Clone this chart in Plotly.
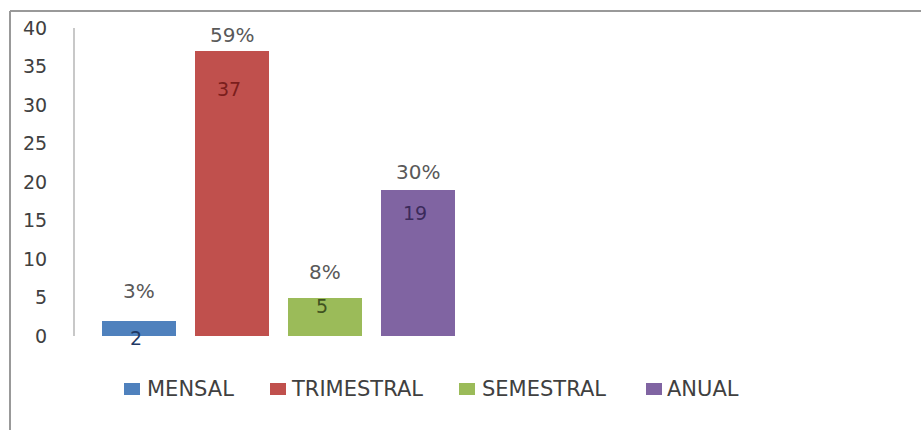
import plotly.graph_objects as go

# Periodicidade: número de respostas por categoria
categories = ["MENSAL", "TRIMESTRAL", "SEMESTRAL", "ANUAL"]
values = [2, 37, 5, 19]
y_ticks = [0, 5, 10, 15, 20, 25, 30, 35, 40]

# Estilo
bar_colors = ["#4F81BD", "#C0504D", "#9BBB59", "#8064A2"]
value_colors = ["#1F3864", "#7B1E1C", "#3F5220", "#3B2A5A"]
value_shift = [-17, -38, -8, -23]      # deslocamento (px) do rótulo de valor a partir do topo
pct_shift = [30, 16, 26, 18]           # deslocamento (px) do rótulo percentual acima do topo

# Legenda desenhada à mão (posições em px da página)
legend_box_x = [124, 270, 459, 646]
legend_text_x = [145, 289, 480, 665]
legend_y = 389

W, H = 921, 430
ML, MR, MT, MB = 75, 21, 28, 94
PW, PH = W - ML - MR, H - MT - MB
BAR_STEP = 93
FIRST_CENTER = 139

FONT = "DejaVu Sans"
total = sum(values)

px = lambda p: (p - ML) / PW
py = lambda p: (H - MB - p) / PH

fig = go.Figure()
for i, (cat, v) in enumerate(zip(categories, values)):
    fig.add_trace(go.Bar(
        x=[i], y=[v], name=cat, width=0.8,
        marker=dict(color=bar_colors[i], line=dict(width=0)),
        hoverinfo="skip", showlegend=False,
    ))
    fig.add_annotation(
        x=i, y=v, xref="x", yref="y", text=str(v), showarrow=False,
        yanchor="middle", yshift=value_shift[i], xshift=-3,
        font=dict(family=FONT, size=19, color=value_colors[i]),
    )
    fig.add_annotation(
        x=i, y=v, xref="x", yref="y", text=f"{round(v / total * 100)}%",
        showarrow=False, yanchor="middle", yshift=pct_shift[i],
        font=dict(family=FONT, size=20, color="#595959"),
    )
    # entrada da legenda
    fig.add_shape(type="rect", xref="paper", yref="paper",
                  x0=px(legend_box_x[i]), x1=px(legend_box_x[i] + 16),
                  y0=py(legend_y - 6), y1=py(legend_y + 6),
                  fillcolor=bar_colors[i], line=dict(width=0))
    fig.add_annotation(
        x=px(legend_text_x[i]), y=py(legend_y), xref="paper", yref="paper",
        text=cat, showarrow=False, xanchor="left", yanchor="middle",
        font=dict(family=FONT, size=21, color="#404040"),
    )

x0 = -(FIRST_CENTER - ML) / BAR_STEP
x1 = (ML + PW - FIRST_CENTER) / BAR_STEP

# moldura do gráfico (linha superior e esquerda)
frame_color = "#999999"
fig.add_shape(type="line", xref="paper", yref="paper",
              x0=px(10), x1=px(W + 5), y0=py(11), y1=py(11),
              line=dict(color=frame_color, width=2))
fig.add_shape(type="line", xref="paper", yref="paper",
              x0=px(10), x1=px(10), y0=py(11), y1=py(H + 5),
              line=dict(color=frame_color, width=2))

fig.update_layout(
    width=W, height=H,
    margin=dict(l=ML, r=MR, t=MT, b=MB),
    paper_bgcolor="white", plot_bgcolor="white",
    barmode="overlay", bargap=0,
    showlegend=False,
    xaxis=dict(range=[x0, x1], showticklabels=False, showgrid=False,
               zeroline=False, showline=False, ticks=""),
    yaxis=dict(range=[0, 40], tickvals=y_ticks, showgrid=False, zeroline=False,
               showline=True, linecolor="#C8C8C8", linewidth=2, ticks="",
               ticklabelstandoff=22,
               tickfont=dict(family=FONT, size=19, color="#404040")),
)

fig.write_html("out.html")
